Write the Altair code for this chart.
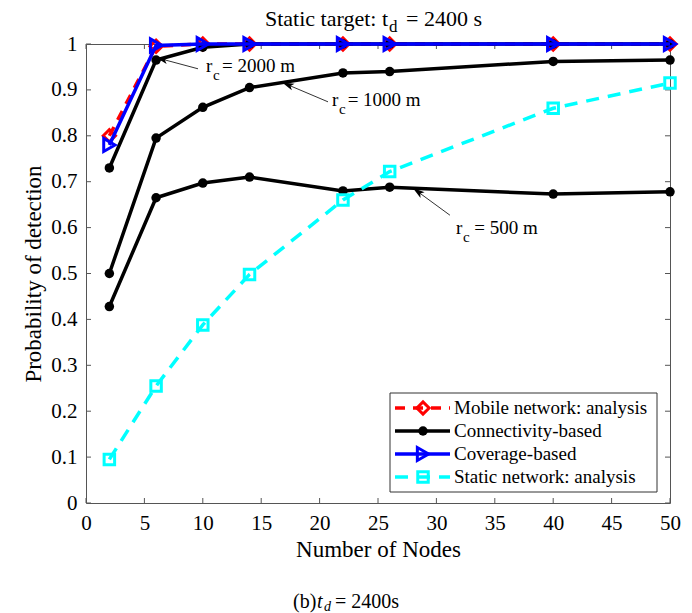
import altair as alt
import pandas as pd

# ---------------- data ----------------
nodes = [2, 6, 10, 14, 22, 26, 40, 50]
mobile_analysis = [0.80, 0.995, 1.0, 1.0, 1.0, 1.0, 1.0, 1.0]
conn_2000 = [0.73, 0.965, 0.993, 1.0, 1.0, 1.0, 1.0, 1.0]
conn_1000 = [0.50, 0.795, 0.862, 0.905, 0.937, 0.940, 0.962, 0.965]
conn_500 = [0.428, 0.665, 0.697, 0.71, 0.68, 0.688, 0.673, 0.678]
coverage = [0.78, 0.997, 1.0, 1.0, 1.0, 1.0, 1.0, 1.0]
static_analysis = [0.095, 0.255, 0.388, 0.498, 0.66, 0.722, 0.86, 0.915]

x_ticks = [0, 5, 10, 15, 20, 25, 30, 35, 40, 45, 50]
y_ticks = [0, 0.1, 0.2, 0.3, 0.4, 0.5, 0.6, 0.7, 0.8, 0.9, 1.0]

legend_labels = ["Mobile network: analysis", "Connectivity-based",
                 "Coverage-based", "Static network: analysis"]

# annotation arrows (data coords): tail x, tail y, tip x, tip y
ann_labels = ["2000", "1000", "500"]
ann_tail_x = [9.59, 20.72, 31.16]
ann_tail_y = [0.946, 0.874, 0.627]
ann_tip_x = [6.51, 17.29, 28.42]
ann_tip_y = [0.967, 0.911, 0.678]
ann_r_x = [10.27, 21.06, 31.68]
ann_r_y = [0.952, 0.878, 0.599]
ann_eq_x = [11.65, 22.40, 33.25]

# ---------------- layout ----------------
W, H = 584, 459
FONT = "Liberation Serif"

xs = alt.Scale(domain=[0, 50], nice=False, zero=False)
ys = alt.Scale(domain=[0, 1], nice=False, zero=False)

x_axis = alt.Axis(
    values=x_ticks, title="Number of Nodes", ticks=False, domain=False, grid=False,
    labelFont=FONT, labelFontSize=21, labelColor="#000", labelPadding=9,
    titleFont=FONT, titleFontSize=23, titleFontWeight="normal", titleColor="#000",
    titlePadding=5, labelFlush=False)
y_axis = alt.Axis(
    values=y_ticks, format=".1~f", title="Probability of detection", ticks=False,
    domain=False, grid=False, labelFont=FONT, labelFontSize=21, labelColor="#000",
    labelPadding=9, titleFont=FONT, titleFontSize=23, titleFontWeight="normal",
    titleColor="#000", titlePadding=5, labelFlush=False)


def X(f):
    return alt.X(f, type="quantitative", scale=xs, axis=x_axis)


def Y(f):
    return alt.Y(f, type="quantitative", scale=ys, axis=y_axis)


def series_df(vals):
    return pd.DataFrame({"x": nodes, "y": vals})


layers = []

# inward ticks
xt = pd.DataFrame({"v": x_ticks})
yt = pd.DataFrame({"v": y_ticks})
tick_col = "#555555"
layers.append(alt.Chart(xt).mark_rule(color=tick_col, strokeWidth=1).encode(
    x=X("v"), y=alt.value(H), y2=alt.value(H - 5)))
layers.append(alt.Chart(xt).mark_rule(color=tick_col, strokeWidth=1).encode(
    x=X("v"), y=alt.value(0), y2=alt.value(5)))
layers.append(alt.Chart(yt).mark_rule(color=tick_col, strokeWidth=1).encode(
    y=Y("v"), x=alt.value(0), x2=alt.value(5)))
layers.append(alt.Chart(yt).mark_rule(color=tick_col, strokeWidth=1).encode(
    y=Y("v"), x=alt.value(W), x2=alt.value(W - 5)))


def add_series(vals, color, dash, shape, size, filled, sw):
    d = series_df(vals)
    kw = dict(color=color, strokeWidth=3.5)
    if dash:
        kw["strokeDash"] = dash
    layers.append(alt.Chart(d).mark_line(**kw).encode(x=X("x"), y=Y("y")))
    layers.append(alt.Chart(d).mark_point(shape=shape, size=size, filled=filled, color=color,
                                          strokeWidth=sw, opacity=1).encode(x=X("x"), y=Y("y")))


add_series(mobile_analysis, "#ff0000", [10, 8], "diamond", 150, False, 3)
add_series(conn_2000, "#000000", None, "circle", 90, True, 1)
add_series(conn_1000, "#000000", None, "circle", 90, True, 1)
add_series(conn_500, "#000000", None, "circle", 90, True, 1)
add_series(coverage, "#0000ff", None, "triangle-right", 170, False, 3)
add_series(static_analysis, "#00ffff", [13, 9], "square", 110, False, 3)

# annotations
arrow_head = "M0,-1 L0.55,0.9 L0,0.45 L-0.55,0.9 Z"
ann_angles = [285, 293, 306]
for i in range(3):
    d = pd.DataFrame({"x": [ann_tail_x[i]], "y": [ann_tail_y[i]],
                      "x2": [ann_tip_x[i]], "y2": [ann_tip_y[i]]})
    layers.append(alt.Chart(d).mark_rule(color="#333333", strokeWidth=1).encode(
        x=X("x"), y=Y("y"), x2="x2:Q", y2="y2:Q"))
    layers.append(alt.Chart(d).mark_point(shape=arrow_head, size=160, filled=True, color="#000",
                                          angle=ann_angles[i], opacity=1).encode(
        x=X("x2"), y=Y("y2")))
    t = pd.DataFrame({"x": [ann_r_x[i]], "y": [ann_r_y[i]], "xe": [ann_eq_x[i]],
                      "txt": ["= " + ann_labels[i] + " m"]})
    layers.append(alt.Chart(t).mark_text(text="r", font=FONT, fontSize=19, align="left",
                                         baseline="middle", color="#000").encode(
        x=X("x"), y=Y("y")))
    layers.append(alt.Chart(t).mark_text(text="c", font=FONT, fontSize=15, align="left",
                                         baseline="middle", color="#000", dx=7, dy=9).encode(
        x=X("x"), y=Y("y")))
    layers.append(alt.Chart(t).mark_text(font=FONT, fontSize=19, align="left",
                                         baseline="middle", color="#000").encode(
        x=X("xe"), y=Y("y"), text="txt:N"))

# legend (manual, MATLAB style)
one = pd.DataFrame({"a": [0]})
layers.append(alt.Chart(one).mark_rect(fill="white", stroke="#333333", strokeWidth=1).encode(
    x=alt.value(304), x2=alt.value(571), y=alt.value(349), y2=alt.value(448)))
leg_styles = [
    ("#ff0000", [10, 8], "diamond", False, 3, 150),
    ("#000000", None, "circle", True, 1, 90),
    ("#0000ff", None, "triangle-right", False, 3, 170),
    ("#00ffff", [13, 9], "square", False, 3, 110),
]
for i, (col, dash, shp, fil, sw, sz) in enumerate(leg_styles):
    yy = 364 + i * 23
    kw = dict(color=col, strokeWidth=3.5)
    if dash:
        kw["strokeDash"] = dash
    layers.append(alt.Chart(one).mark_rule(**kw).encode(
        x=alt.value(309), x2=alt.value(364), y=alt.value(yy)))
    layers.append(alt.Chart(one).mark_point(shape=shp, filled=fil, color=col, strokeWidth=sw,
                                            size=sz, opacity=1).encode(
        x=alt.value(337), y=alt.value(yy)))
    layers.append(alt.Chart(one).mark_text(text=legend_labels[i], font=FONT, fontSize=19,
                                           align="left", baseline="middle", color="#000").encode(
        x=alt.value(368), y=alt.value(yy)))

# title (with subscript)
layers.append(alt.Chart(one).mark_text(text="Static target: t", font=FONT, fontSize=22,
                                       align="right", baseline="middle", color="#000").encode(
    x=alt.value(302), y=alt.value(-25)))
layers.append(alt.Chart(one).mark_text(text="d", font=FONT, fontSize=17,
                                       align="left", baseline="middle", color="#000").encode(
    x=alt.value(303), y=alt.value(-17)))
layers.append(alt.Chart(one).mark_text(text="= 2400 s", font=FONT, fontSize=22,
                                       align="left", baseline="middle", color="#000").encode(
    x=alt.value(320), y=alt.value(-25)))

# caption
layers.append(alt.Chart(one).mark_text(text="(b)", font=FONT, fontSize=20,
                                       align="left", baseline="middle", color="#000").encode(
    x=alt.value(207), y=alt.value(558)))
layers.append(alt.Chart(one).mark_text(text="t", font=FONT, fontSize=20, fontStyle="italic",
                                       align="left", baseline="middle", color="#000").encode(
    x=alt.value(231), y=alt.value(558)))
layers.append(alt.Chart(one).mark_text(text="d", font=FONT, fontSize=14, fontStyle="italic",
                                       align="left", baseline="middle", color="#000").encode(
    x=alt.value(238), y=alt.value(563)))
layers.append(alt.Chart(one).mark_text(text="= 2400s", font=FONT, fontSize=20,
                                       align="left", baseline="middle", color="#000").encode(
    x=alt.value(249), y=alt.value(558)))

chart = alt.layer(*layers).properties(
    width=W, height=H,
    autosize=alt.AutoSizeParams(type="none"),
    padding={"left": 78, "top": 36, "right": 14, "bottom": 110},
    background="white",
).configure_view(stroke="#555555", strokeWidth=1)

chart.save("out.html", embed_options={"renderer": "svg", "actions": False})
